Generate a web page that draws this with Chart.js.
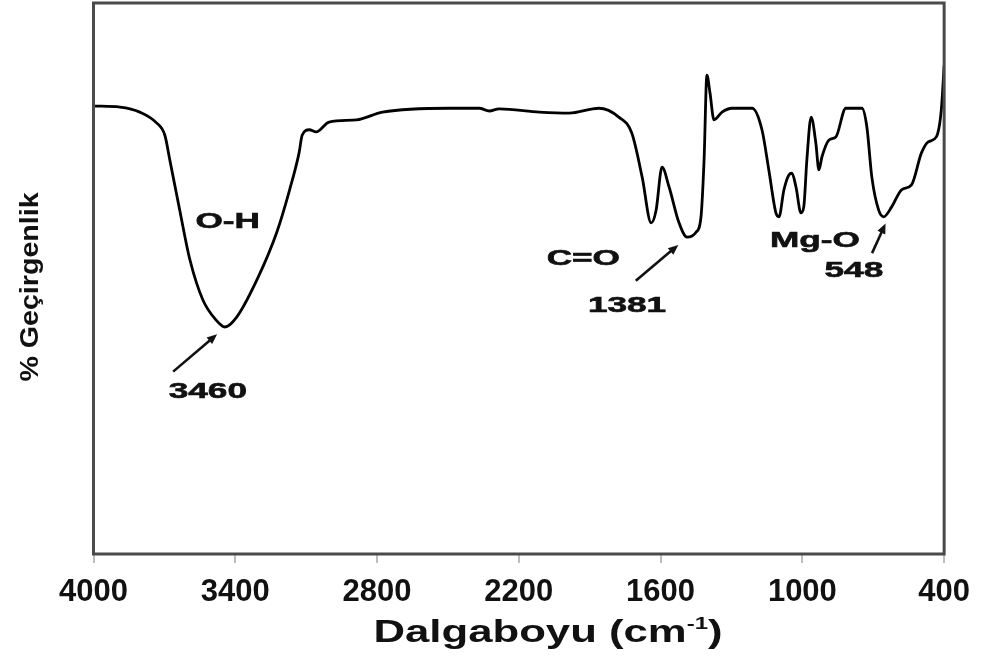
<!DOCTYPE html>
<html>
<head>
<meta charset="utf-8">
<script src="https://cdn.jsdelivr.net/npm/chart.js@4/dist/chart.umd.min.js"></script>
<style>
  html, body { margin: 0; padding: 0; background: #fff; }
  #wrap { width: 981px; height: 659px; position: relative; }
</style>
</head>
<body>
<div id="wrap"><canvas id="ftir"></canvas></div>
<script>
// ====== FTIR spektrumu (okunan değerler) ======
const wavenumbers = [
  4000, 3888, 3804, 3732, 3698, 3677, 3635, 3592, 3537, 3482, 3444, 3394, 3309, 3225,
  3170, 3130, 3117, 3087, 3058, 3003, 2887, 2777, 2494, 2367, 2325, 2283, 2113, 1987,
  1861, 1777, 1722, 1678, 1640, 1619, 1594, 1564, 1522, 1488, 1450, 1429, 1416, 1404,
  1391, 1374, 1340, 1298, 1213, 1171, 1142, 1112, 1099, 1078, 1057, 1044, 1027, 1006,
  994, 981, 963, 943, 930, 917, 888, 858, 816, 748, 727, 706, 677, 656, 622, 580,
  538, 496, 467, 433, 412, 400
];
const transmittance = [
  81.3, 81.1, 80.2, 78.2, 76.0, 71.5, 62.4, 53.4, 46.1, 42.5, 41.2, 43.0, 49.7, 58.3,
  66.1, 72.8, 76.0, 77.0, 76.6, 78.4, 78.8, 80.2, 80.9, 80.9, 80.4, 80.8, 80.2, 80.0,
  80.9, 79.3, 76.4, 68.4, 60.1, 62.4, 70.2, 66.6, 60.1, 57.5, 58.4, 61.2, 71.5, 86.9,
  83.7, 78.8, 80.2, 80.9, 80.9, 77.0, 69.7, 61.9, 61.2, 66.1, 68.8, 69.1, 66.6, 61.9,
  63.0, 71.5, 79.3, 74.6, 69.7, 72.1, 75.1, 75.7, 80.9, 80.9, 77.5, 68.4, 62.4, 61.2,
  63.0, 66.1, 67.0, 72.8, 74.8, 75.7, 80.6, 88.7
];
const xTicks = [4000, 3400, 2800, 2200, 1600, 1000, 400];

// ====== Etiketler ve oklar (veri koordinatlarında) ======
const labelTexts = ['O-H', '3460', 'C=O', '1381', 'Mg-O', '548'];
const labelWn    = [3432, 3516, 1927, 1742, 947, 782];
const labelT     = [60.3, 29.4, 53.5, 45.0, 56.8, 51.4];

const arrowFromWn = [3663, 1705, 705];
const arrowFromT  = [33.1, 49.6, 54.6];
const arrowToWn   = [3477, 1525, 648];
const arrowToT    = [39.9, 56.1, 60.0];

const FONT = "'Liberation Sans', Arial, sans-serif";
const INK = '#111';

// ====== Ek çizimler: çerçeve, etiketler, oklar, eksen başlıkları ======
const extras = {
  id: 'extras',
  afterDatasetsDraw(chart) {
    const { ctx, chartArea: a, scales: { x, y } } = chart;
    ctx.save();

    // plot çerçevesi
    ctx.strokeStyle = '#4a4a4a';
    ctx.lineWidth = 3;
    ctx.strokeRect(a.left, a.top, a.right - a.left, a.bottom - a.top);

    // yatay olarak gerilmiş kalın metin
    const stretched = (txt, cx, cy, size, sx) => {
      ctx.save();
      ctx.translate(cx, cy);
      ctx.scale(sx, 1);
      ctx.font = `bold ${size}px ${FONT}`;
      ctx.fillStyle = INK;
      ctx.strokeStyle = INK;
      ctx.lineWidth = 0.6;
      ctx.textAlign = 'center';
      ctx.textBaseline = 'middle';
      ctx.fillText(txt, 0, 0);
      ctx.strokeText(txt, 0, 0);
      ctx.restore();
    };

    labelTexts.forEach((t, i) => {
      stretched(t, x.getPixelForValue(labelWn[i]), y.getPixelForValue(labelT[i]), 22, 1.6);
    });

    // oklar
    ctx.strokeStyle = INK;
    ctx.fillStyle = INK;
    ctx.lineWidth = 2.6;
    arrowFromWn.forEach((_, i) => {
      const x0 = x.getPixelForValue(arrowFromWn[i]), y0 = y.getPixelForValue(arrowFromT[i]);
      const x1 = x.getPixelForValue(arrowToWn[i]),   y1 = y.getPixelForValue(arrowToT[i]);
      const ang = Math.atan2(y1 - y0, x1 - x0);
      const head = 11;
      ctx.beginPath();
      ctx.moveTo(x0, y0);
      ctx.lineTo(x1 - Math.cos(ang) * head * 0.7, y1 - Math.sin(ang) * head * 0.7);
      ctx.stroke();
      ctx.beginPath();
      ctx.moveTo(x1, y1);
      ctx.lineTo(x1 - head * Math.cos(ang - 0.4), y1 - head * Math.sin(ang - 0.4));
      ctx.lineTo(x1 - head * Math.cos(ang + 0.4), y1 - head * Math.sin(ang + 0.4));
      ctx.closePath();
      ctx.fill();
    });

    // x ekseni başlığı (cm⁻¹ üst simge ile)
    ctx.save();
    ctx.translate(548, 633);
    ctx.scale(1.41, 1);
    ctx.fillStyle = INK;
    ctx.textBaseline = 'middle';
    const main = 'Dalgaboyu (cm', sup = '-1', tail = ')';
    ctx.font = `bold 31px ${FONT}`;
    const wMain = ctx.measureText(main).width, wTail = ctx.measureText(tail).width;
    ctx.font = `bold 17px ${FONT}`;
    const wSup = ctx.measureText(sup).width;
    let cx = -(wMain + wSup + wTail) / 2;
    ctx.font = `bold 31px ${FONT}`;
    ctx.fillText(main, cx, 0); cx += wMain;
    ctx.font = `bold 17px ${FONT}`;
    ctx.fillText(sup, cx, -9); cx += wSup;
    ctx.font = `bold 31px ${FONT}`;
    ctx.fillText(tail, cx, 0);
    ctx.restore();

    // y ekseni başlığı
    ctx.save();
    ctx.translate(31, 287);
    ctx.rotate(-Math.PI / 2);
    ctx.scale(1.1, 1);
    ctx.font = `bold 26px ${FONT}`;
    ctx.fillStyle = INK;
    ctx.textAlign = 'center';
    ctx.textBaseline = 'middle';
    ctx.fillText('% Geçirgenlik', 0, 0);
    ctx.restore();

    ctx.restore();
  }
};

// ====== Grafik ======
new Chart(document.getElementById('ftir').getContext('2d'), {
  type: 'line',
  data: {
    datasets: [{
      data: wavenumbers.map((w, i) => ({ x: w, y: transmittance[i] })),
      borderColor: '#000',
      borderWidth: 2.8,
      pointRadius: 0,
      cubicInterpolationMode: 'monotone',
      fill: false,
    }],
  },
  options: {
    responsive: true,
    maintainAspectRatio: false,
    animation: false,
    layout: { padding: { left: 93.5, right: 35, top: 3, bottom: 0 } },
    plugins: { legend: { display: false }, tooltip: { enabled: false } },
    scales: {
      x: {
        type: 'linear',
        reverse: true,
        min: 400,
        max: 4000,
        afterBuildTicks: (s) => { s.ticks = xTicks.map((v) => ({ value: v })); },
        afterFit: (s) => { s.height = 105; },
        grid: { drawOnChartArea: false, drawTicks: true, tickLength: 9, color: '#bdbdbd', lineWidth: 2 },
        border: { display: false },
        ticks: {
          color: INK,
          padding: 11,
          maxRotation: 0,
          autoSkip: false,
          callback: (v) => String(v),
          font: { family: FONT, size: 31, weight: 'bold' },
        },
      },
      y: { display: false, min: 0, max: 100 },
    },
  },
  plugins: [extras],
});
</script>
</body>
</html>
